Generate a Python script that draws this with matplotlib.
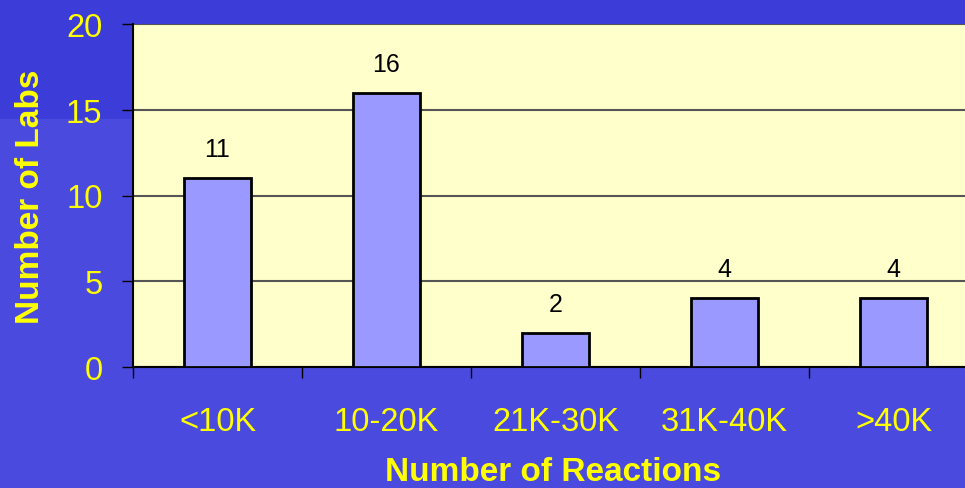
import matplotlib
matplotlib.use("Agg")
import matplotlib.pyplot as plt
from matplotlib.patches import Rectangle

categories = ["<10K", "10-20K", "21K-30K", "31K-40K", ">40K"]
labs = [11, 16, 2, 4, 4]
yticks = [0, 5, 10, 15, 20]

plt.rcParams['font.family'] = ['Liberation Sans', 'DejaVu Sans']

W, H = 965, 489
fig = plt.figure(figsize=(W / 100, H / 100), dpi=100)
fig.patch.set_facecolor('#4a4ade')
# darker top band of the background
fig.add_artist(Rectangle((0, 1 - 120 / H), 1, 120 / H, transform=fig.transFigure,
                         facecolor='#3c3cd8', edgecolor='none', zorder=-10))

left = 133 / W
bottom = (H - 368) / H
width = 845 / W
height = 343 / H
ax = fig.add_axes([left, bottom, width, height])
ax.set_facecolor('#ffffcc')

x = list(range(len(categories)))
ax.bar(x, labs, width=0.4, color='#9999ff', edgecolor='black', linewidth=2, zorder=3)
for xi, v in zip(x, labs):
    ax.text(xi, v + 1.28, str(v), ha='center', va='baseline', fontsize=18, color='black', zorder=4)

ax.set_xlim(-0.5, len(categories) - 0.5)
ax.set_ylim(0, 20)
ax.set_yticks(yticks)
ax.yaxis.grid(True, color='#555555', linewidth=1.5, zorder=0)
ax.set_axisbelow(True)

ax.set_xticks(x)
ax.set_xticklabels(categories)
ax.set_xticks([i - 0.5 for i in range(len(categories) + 1)], minor=True)
ax.tick_params(axis='x', which='major', length=0, pad=28, labelsize=23.5, labelcolor='#ffff00')
ax.tick_params(axis='x', which='minor', length=8, width=1, direction='out', color='black')
ax.tick_params(axis='y', which='major', length=8, width=1, direction='out', color='black',
               pad=14, labelsize=23.5, labelcolor='#ffff00')

for s in ['top', 'right']:
    ax.spines[s].set_visible(False)
ax.spines['left'].set_linewidth(1.5)
ax.spines['bottom'].set_linewidth(1.5)

ax.set_ylabel('Number of Labs', fontsize=24, fontweight='bold', color='#ffff00')
ax.set_xlabel('Number of Reactions', fontsize=24, fontweight='bold', color='#ffff00',
              va='baseline')
ax.xaxis.set_label_coords((553 / W - left) / width, -(481 - 368) / 343)
ax.yaxis.set_label_coords(-(133 - 46) / 845, 0.5)

fig.savefig('out.png', dpi=100, facecolor=fig.get_facecolor())
